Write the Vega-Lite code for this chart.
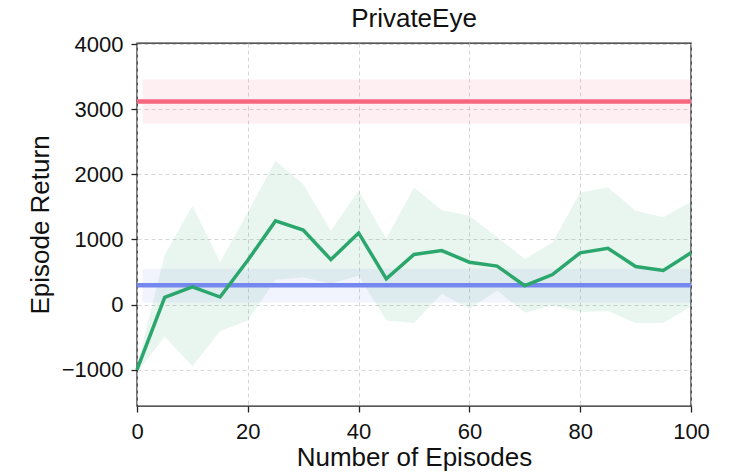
{
  "$schema": "https://vega.github.io/schema/vega-lite/v6.json",
  "width": 554,
  "height": 363,
  "autosize": "none",
  "padding": {"left": 137, "top": 43, "right": 40, "bottom": 69},
  "background": "white",
  "config": {
    "font": "Liberation Sans",
    "view": {"stroke": "#222222", "strokeWidth": 1.4},
    "axis": {
      "grid": true,
      "gridColor": "#cccccc",
      "gridDash": [4, 3],
      "gridWidth": 0.8,
      "domain": false,
      "tickColor": "#222222",
      "tickSize": 6,
      "tickWidth": 1.3,
      "labelFontSize": 22,
      "labelColor": "#111111",
      "labelFlush": false,
      "titleFontSize": 26,
      "titleFontWeight": "normal",
      "titleColor": "#111111"
    },
    "title": {"fontSize": 26, "fontWeight": "normal", "color": "#111111"}
  },
  "title": {"text": "PrivateEye", "offset": 1},
  "datasets": {
    "green": [
      {"ep": 0, "mean": -1000, "lo": -1050, "hi": -950},
      {"ep": 5, "mean": 110, "lo": -490, "hi": 760},
      {"ep": 10, "mean": 270, "lo": -950, "hi": 1520},
      {"ep": 15, "mean": 115, "lo": -410, "hi": 650},
      {"ep": 20, "mean": 680, "lo": -245, "hi": 1420},
      {"ep": 25, "mean": 1285, "lo": 380, "hi": 2210},
      {"ep": 30, "mean": 1145, "lo": 420, "hi": 1850},
      {"ep": 35, "mean": 690, "lo": 320, "hi": 1135},
      {"ep": 40, "mean": 1100, "lo": 445, "hi": 1750},
      {"ep": 45, "mean": 395, "lo": -245, "hi": 1010},
      {"ep": 50, "mean": 770, "lo": -285, "hi": 1800},
      {"ep": 55, "mean": 830, "lo": 165, "hi": 1450},
      {"ep": 60, "mean": 650, "lo": -65, "hi": 1365},
      {"ep": 65, "mean": 590, "lo": 215, "hi": 1035},
      {"ep": 70, "mean": 290, "lo": -125, "hi": 700},
      {"ep": 75, "mean": 460, "lo": -15, "hi": 955},
      {"ep": 80, "mean": 795, "lo": -115, "hi": 1720},
      {"ep": 85, "mean": 865, "lo": -100, "hi": 1800},
      {"ep": 90, "mean": 585, "lo": -285, "hi": 1440},
      {"ep": 95, "mean": 525, "lo": -285, "hi": 1340},
      {"ep": 100, "mean": 795, "lo": -30, "hi": 1580}
    ],
    "bands": [
      {"series": "red", "x1": 1, "x2": 100, "lo": 2780, "hi": 3460, "mean": 3120, "l1": 0},
      {"series": "blue", "x1": 1, "x2": 100, "lo": 30, "hi": 550, "mean": 297, "l1": 0}
    ]
  },
  "layer": [
    {
      "data": {"name": "green"},
      "mark": {"type": "area", "color": "#2ba66c", "opacity": 0.1},
      "encoding": {
        "x": {"field": "ep", "type": "quantitative", "scale": {"domain": [0, 100], "nice": false}, "axis": {"values": [0, 20, 40, 60, 80, 100], "format": "d", "labelPadding": 9, "title": "Number of Episodes", "titlePadding": 2}},
        "y": {"field": "lo", "type": "quantitative", "scale": {"domain": [-1560, 4020], "nice": false, "zero": false}, "axis": {"values": [-1000, 0, 1000, 2000, 3000, 4000], "format": "d", "labelPadding": 8, "title": "Episode Return", "titlePadding": 8}},
        "y2": {"field": "hi"}
      }
    },
    {
      "data": {"name": "bands"},
      "mark": {"type": "rect", "opacity": 0.1},
      "encoding": {
        "x": {"field": "x1", "type": "quantitative"},
        "x2": {"field": "x2"},
        "y": {"field": "lo", "type": "quantitative"},
        "y2": {"field": "hi"},
        "color": {"field": "series", "type": "nominal", "scale": {"domain": ["red", "blue"], "range": ["#f7667f", "#7588f0"]}, "legend": null}
      }
    },
    {
      "data": {"name": "bands"},
      "mark": {"type": "rule", "strokeWidth": 4.5},
      "encoding": {
        "x": {"field": "l1", "type": "quantitative"},
        "x2": {"field": "x2"},
        "y": {"field": "mean", "type": "quantitative"},
        "color": {"field": "series", "type": "nominal", "legend": null}
      }
    },
    {
      "data": {"name": "green"},
      "mark": {"type": "line", "color": "#2ba66c", "strokeWidth": 3.5, "strokeJoin": "miter"},
      "encoding": {
        "x": {"field": "ep", "type": "quantitative"},
        "y": {"field": "mean", "type": "quantitative"}
      }
    }
  ]
}
